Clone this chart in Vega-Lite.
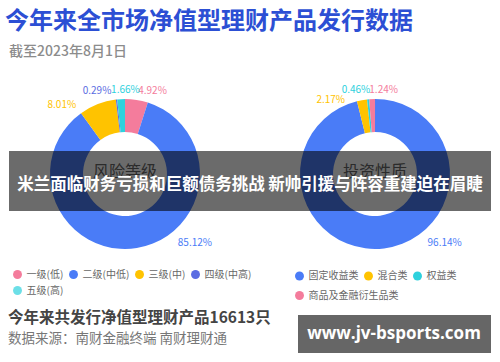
{
  "$schema": "https://vega.github.io/schema/vega-lite/v6.json",
  "width": 500,
  "height": 348,
  "autosize": {"type": "none"},
  "padding": {"left": 0, "top": 0, "right": 0, "bottom": 14},
  "background": "white",
  "config": {
    "view": {"stroke": null},
    "font": "Noto Sans CJK SC",
    "legend": {"labelFont": "Noto Sans CJK SC", "labelFontSize": 10, "labelColor": "#666666", "symbolType": "circle", "symbolSize": 80, "symbolStrokeWidth": 0, "labelOffset": 4, "columnPadding": 5, "title": null, "orient": "none", "direction": "horizontal"}
  },
  "datasets": {
    "shares": [
      {"panel": "风险等级", "category": "一级(低)", "share": 0.0492},
      {"panel": "风险等级", "category": "二级(中低)", "share": 0.8512},
      {"panel": "风险等级", "category": "三级(中)", "share": 0.0801},
      {"panel": "风险等级", "category": "四级(中高)", "share": 0.0029},
      {"panel": "风险等级", "category": "五级(高)", "share": 0.0166},
      {"panel": "投资性质", "category": "固定收益类", "share": 0.9614},
      {"panel": "投资性质", "category": "混合类", "share": 0.0217},
      {"panel": "投资性质", "category": "权益类", "share": 0.0046},
      {"panel": "投资性质", "category": "商品及金融衍生品类", "share": 0.0124}
    ]
  },
  "data": {"name": "shares"},
  "transform": [
    {"stack": "share", "groupby": ["panel"], "as": ["s0", "s1"]}
  ],
  "encoding": {
    "x": {"field": "panel", "type": "nominal", "axis": null,
          "scale": {"type": "point", "domain": ["风险等级", "投资性质"], "range": [125, 375], "padding": 0}}
  },
  "layer": [
    {
      "transform": [{"filter": "datum.panel === '风险等级'"}],
      "mark": {"type": "arc", "innerRadius": 42, "outerRadius": 75},
      "encoding": {
        "theta": {"field": "s0", "type": "quantitative", "scale": {"domain": [0, 1]}},
        "theta2": {"field": "s1"},
        "color": {"field": "category", "type": "nominal",
          "scale": {"domain": ["一级(低)", "二级(中低)", "三级(中)", "四级(中高)", "五级(高)"],
                    "range": ["#f47c9c", "#4a7cf7", "#ffc300", "#5b6de2", "#2ed1dd"]},
          "legend": {"legendX": 12.5, "legendY": 269.5, "values": ["一级(低)", "二级(中低)", "三级(中)", "四级(中高)"]}}
      }
    },
    {
      "transform": [{"filter": "datum.panel === '投资性质'"}],
      "mark": {"type": "arc", "innerRadius": 42, "outerRadius": 75},
      "encoding": {
        "theta": {"field": "s0", "type": "quantitative", "scale": {"domain": [0, 1]}},
        "theta2": {"field": "s1"},
        "fill": {"field": "category", "type": "nominal",
          "scale": {"domain": ["固定收益类", "混合类", "权益类", "商品及金融衍生品类"],
                    "range": ["#4a7cf7", "#ffc300", "#2ed1dd", "#f47c9c"]},
          "legend": {"legendX": 294.5, "legendY": 271, "values": ["固定收益类", "混合类", "权益类"]}}
      }
    },
    {
      "transform": [{"filter": "datum.category === '五级(高)'"}],
      "mark": {"type": "point", "filled": true, "size": 0, "color": "#2ed1dd"},
      "encoding": {
        "shape": {"field": "category", "type": "nominal",
          "scale": {"domain": ["五级(高)"], "range": ["circle"]},
          "legend": {"legendX": 12.5, "legendY": 285.5}}
      }
    },
    {
      "transform": [{"filter": "datum.category === '商品及金融衍生品类'"}],
      "mark": {"type": "point", "filled": true, "size": 0, "color": "#f47c9c"},
      "encoding": {
        "opacity": {"field": "category", "type": "nominal",
          "scale": {"domain": ["商品及金融衍生品类"], "range": [1]},
          "legend": {"legendX": 294.5, "legendY": 290.5}}
      }
    },
    {
      "transform": [{"filter": "datum.panel === '风险等级'"}, {"calculate": "(datum.s0 + datum.s1) / 2", "as": "mid"}],
      "mark": {"type": "text", "radius": 88, "fontSize": 10, "align": "center", "baseline": "middle",
        "dx": {"expr": "datum.category === '一级(低)' ? 14 : datum.category === '二级(中低)' ? 56 : datum.category === '三级(中)' ? -31 : datum.category === '四级(中高)' ? -18 : 5"},
        "dy": {"expr": "datum.category === '二级(中低)' ? -18 : datum.category === '三级(中)' ? 13 : 4"}},
      "encoding": {
        "theta": {"field": "mid", "type": "quantitative", "scale": {"domain": [0, 1]}},
        "text": {"field": "share", "type": "quantitative", "format": ".2%"},
        "color": {"field": "category", "type": "nominal", "legend": null}
      }
    },
    {
      "transform": [{"filter": "datum.panel === '投资性质'"}, {"calculate": "(datum.s0 + datum.s1) / 2", "as": "mid"}],
      "mark": {"type": "text", "radius": 88, "fontSize": 10, "align": "center", "baseline": "middle",
        "dx": {"expr": "datum.category === '固定收益类' ? 59 : datum.category === '混合类' ? -29 : datum.category === '权益类' ? -11 : 12"},
        "dy": {"expr": "datum.category === '固定收益类' ? -18 : datum.category === '混合类' ? 13 : 4"}},
      "encoding": {
        "theta": {"field": "mid", "type": "quantitative", "scale": {"domain": [0, 1]}},
        "text": {"field": "share", "type": "quantitative", "format": ".2%"},
        "fill": {"field": "category", "type": "nominal", "legend": null}
      }
    },
    {
      "data": {"values": [{"panel": "风险等级"}, {"panel": "投资性质"}]},
      "mark": {"type": "text", "fontSize": 16, "color": "#666666", "y": 172, "align": "center", "baseline": "middle"},
      "encoding": {"text": {"field": "panel"}}
    },
    {
      "data": {"values": [{"t": "今年来全市场净值型理财产品发行数据"}]},
      "mark": {"type": "text", "x": 5, "y": 22, "align": "left", "baseline": "middle", "fontSize": 24, "fontWeight": "bold", "color": "#2c4fd4"},
      "encoding": {"text": {"field": "t"}, "x": null}
    },
    {
      "data": {"values": [{"t": "截至2023年8月1日"}]},
      "mark": {"type": "text", "x": 9, "y": 52, "align": "left", "baseline": "middle", "fontSize": 14, "fontWeight": 500, "color": "#8c8c8c"},
      "encoding": {"text": {"field": "t"}, "x": null}
    },
    {
      "data": {"values": [{"t": "今年来共发行净值型理财产品16613只"}]},
      "mark": {"type": "text", "x": 8, "y": 318, "align": "left", "baseline": "middle", "fontSize": 15.5, "fontWeight": "bold", "color": "#444444"},
      "encoding": {"text": {"field": "t"}, "x": null}
    },
    {
      "data": {"values": [{"t": "数据来源：南财金融终端 南财理财通"}]},
      "mark": {"type": "text", "x": 8, "y": 339, "align": "left", "baseline": "middle", "fontSize": 13.5, "color": "#777777"},
      "encoding": {"text": {"field": "t"}, "x": null}
    },
    {
      "data": {"values": [{"t": "米兰面临财务亏损和巨额债务挑战 新帅引援与阵容重建迫在眉睫"}]},
      "layer": [
        {"mark": {"type": "rect", "x": 9, "x2": 491, "y": 151, "y2": 211, "color": "#000000", "opacity": 0.58},
         "encoding": {"x": null}},
        {"mark": {"type": "text", "x": 250, "y": 185, "align": "center", "baseline": "middle", "fontSize": 16.5, "fontWeight": "bold", "color": "#ffffff"},
         "encoding": {"text": {"field": "t"}, "x": null}}
      ]
    },
    {
      "data": {"values": [{"t": "www.jv-bsports.com"}]},
      "layer": [
        {"mark": {"type": "rect", "x": 298, "x2": 491, "y": 315, "y2": 353, "color": "#666666"},
         "encoding": {"x": null}},
        {"mark": {"type": "text", "x": 394, "y": 334, "align": "center", "baseline": "middle", "fontSize": 17, "fontWeight": "bold", "font": "Open Sans", "color": "#ffffff"},
         "encoding": {"text": {"field": "t"}, "x": null}}
      ]
    }
  ]
}
